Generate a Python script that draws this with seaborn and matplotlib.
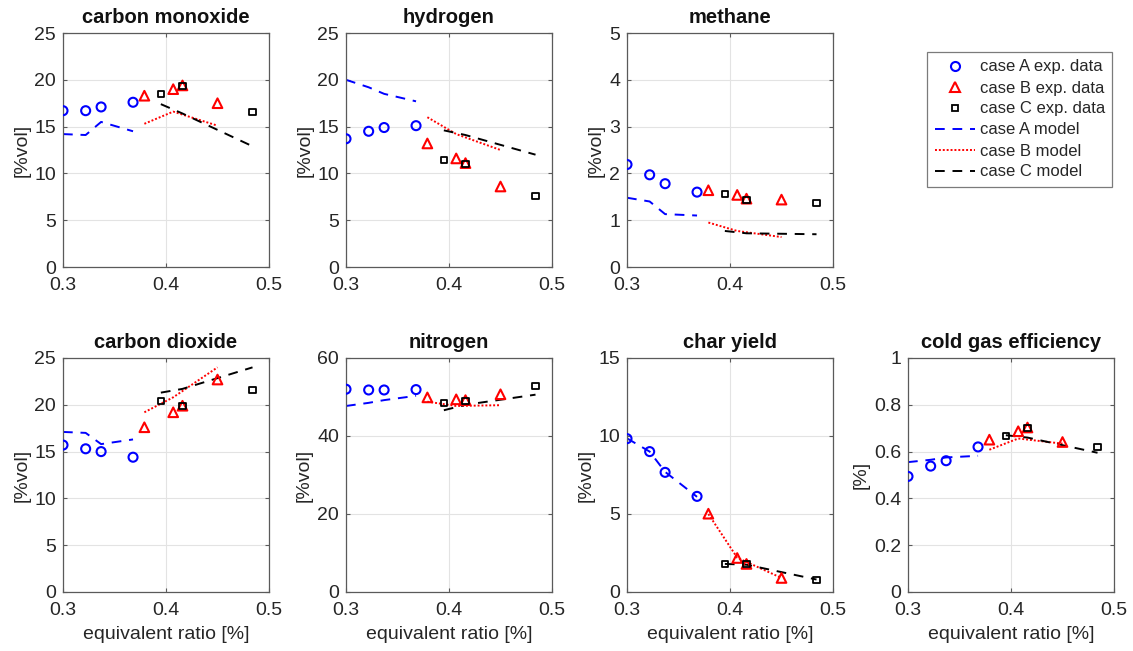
import numpy as np
import pandas as pd
import matplotlib
matplotlib.use("Agg")
import matplotlib.pyplot as plt
from matplotlib.lines import Line2D
import seaborn as sns

# ---------------- data ----------------
x_A = [0.300, 0.322, 0.337, 0.368]
x_B = [0.379, 0.407, 0.416, 0.450]
x_C = [0.395, 0.416, 0.484]
xm_B = [0.379, 0.407, 0.450]

titles = ["carbon monoxide", "hydrogen", "methane", "carbon dioxide",
          "nitrogen", "char yield", "cold gas efficiency"]
ylabels = ["[%vol]", "[%vol]", "[%vol]", "[%vol]", "[%vol]", "[%vol]", "[%]"]
ylims = [25, 25, 5, 25, 60, 15, 1]
ysteps = [5, 5, 1, 5, 20, 5, 0.2]

# experimental data
co_A = [16.7, 16.7, 17.1, 17.6]
co_B = [18.3, 19.0, 19.4, 17.5]
co_C = [18.5, 19.3, 16.6]
h2_A = [13.7, 14.5, 14.9, 15.1]
h2_B = [13.2, 11.6, 11.1, 8.6]
h2_C = [11.4, 11.0, 7.6]
ch4_A = [2.19, 1.97, 1.78, 1.60]
ch4_B = [1.64, 1.54, 1.46, 1.44]
ch4_C = [1.56, 1.44, 1.36]
co2_A = [15.7, 15.3, 15.0, 14.4]
co2_B = [17.6, 19.2, 19.9, 22.7]
co2_C = [20.4, 19.9, 21.6]
n2_A = [52.0, 51.8, 51.8, 51.9]
n2_B = [49.9, 49.4, 49.2, 50.7]
n2_C = [48.4, 49.0, 52.9]
char_A = [9.83, 9.0, 7.67, 6.13]
char_B = [5.02, 2.18, 1.8, 0.9]
char_C = [1.8, 1.8, 0.75]
cge_A = [0.494, 0.538, 0.561, 0.620]
cge_B = [0.651, 0.687, 0.703, 0.641]
cge_C = [0.667, 0.700, 0.618]

# model results
co_mA = [14.2, 14.1, 15.5, 14.5]
co_mB = [15.3, 16.6, 15.1]
co_mC = [17.4, 16.4, 12.9]
h2_mA = [20.0, 19.2, 18.5, 17.7]
h2_mB = [16.0, 14.2, 12.5]
h2_mC = [14.6, 14.1, 12.0]
ch4_mA = [1.48, 1.40, 1.13, 1.10]
ch4_mB = [0.95, 0.77, 0.64]
ch4_mC = [0.77, 0.72, 0.70]
co2_mA = [17.1, 17.0, 15.8, 16.3]
co2_mB = [19.2, 20.8, 24.0]
co2_mC = [21.3, 21.7, 24.0]
n2_mA = [47.7, 48.5, 49.2, 50.3]
n2_mB = [48.8, 47.7, 47.9]
n2_mC = [46.6, 48.0, 50.6]
char_mA = [9.85, 9.0, 7.7, 6.1]
char_mB = [5.0, 2.2, 0.9]
char_mC = [1.8, 1.75, 0.8]
cge_mA = [0.555, 0.565, 0.575, 0.582]
cge_mB = [0.608, 0.656, 0.634]
cge_mC = [0.670, 0.660, 0.595]

exp_A = [co_A, h2_A, ch4_A, co2_A, n2_A, char_A, cge_A]
exp_B = [co_B, h2_B, ch4_B, co2_B, n2_B, char_B, cge_B]
exp_C = [co_C, h2_C, ch4_C, co2_C, n2_C, char_C, cge_C]
mod_A = [co_mA, h2_mA, ch4_mA, co2_mA, n2_mA, char_mA, cge_mA]
mod_B = [co_mB, h2_mB, ch4_mB, co2_mB, n2_mB, char_mB, cge_mB]
mod_C = [co_mC, h2_mC, ch4_mC, co2_mC, n2_mC, char_mC, cge_mC]

# ---------------- style ----------------
sns.set_theme(style="white")
plt.rcParams['font.family'] = ['Liberation Sans', 'DejaVu Sans']
plt.rcParams['axes.unicode_minus'] = False

BLUE = "#0000ff"
RED = "#ff0000"
BLACK = "#000000"
TXT = "#262626"
SPINE = "#5a5a5a"
FS = 14

fig = plt.figure(figsize=(11.33, 6.51), dpi=100)
fig.patch.set_facecolor("white")

lefts = [63, 346, 627, 63, 346, 627, 908]
tops = [33, 33, 33, 358, 358, 358, 358]
W, H = 1133.0, 651.0
aw, ah = 206, 234

for i in range(7):
    l = lefts[i] / W
    b = 1 - (tops[i] + ah) / H
    ax = fig.add_axes([l, b, aw / W, ah / H])

    sns.lineplot(x=x_A, y=mod_A[i], ax=ax, color=BLUE, linestyle=(0, (5, 4)),
                 linewidth=1.4, sort=False, estimator=None)
    sns.lineplot(x=xm_B, y=mod_B[i], ax=ax, color=RED, linestyle=(0, (1, 1)),
                 linewidth=1.4, sort=False, estimator=None)
    sns.lineplot(x=x_C, y=mod_C[i], ax=ax, color=BLACK, linestyle=(0, (5, 4)),
                 linewidth=1.4, sort=False, estimator=None)

    sns.scatterplot(x=x_A, y=exp_A[i], ax=ax, marker="o", s=42,
                    facecolor="none", edgecolor=BLUE, linewidth=1.5, zorder=5)
    sns.scatterplot(x=x_B, y=exp_B[i], ax=ax, marker="^", s=48,
                    facecolor="none", edgecolor=RED, linewidth=1.5, zorder=5)
    sns.scatterplot(x=x_C, y=exp_C[i], ax=ax, marker="s", s=20,
                    facecolor="none", edgecolor=BLACK, linewidth=1.3, zorder=5)

    ax.set_xlim(0.3, 0.5)
    ax.set_ylim(0, ylims[i])
    ax.set_xticks([0.3, 0.4, 0.5])
    ax.set_xticklabels(["0.3", "0.4", "0.5"])
    yt = np.round(np.arange(0, ylims[i] + ysteps[i] / 2, ysteps[i]), 3)
    ax.set_yticks(yt)
    ax.set_yticklabels([("%g" % v) for v in yt])
    ax.grid(True, color="#e3e3e3", linewidth=0.8)
    ax.set_axisbelow(True)
    for sp in ax.spines.values():
        sp.set_color(SPINE)
        sp.set_linewidth(0.9)
    ax.tick_params(axis="both", direction="in", length=3, width=0.8,
                   colors=SPINE, labelcolor=TXT, labelsize=FS,
                   top=True, right=True, bottom=True, left=True)
    ax.tick_params(axis="x", pad=7)
    ax.tick_params(axis="y", pad=5)
    ax.set_title(titles[i], fontsize=14.5, fontweight="bold", color="#111111", pad=7)
    ax.set_ylabel(ylabels[i], fontsize=FS, color=TXT, labelpad=3)
    if i >= 3:
        ax.set_xlabel("equivalent ratio [%]", fontsize=FS, color=TXT, labelpad=5)
    else:
        ax.set_xlabel("")
    if ax.get_legend() is not None:
        ax.get_legend().remove()

handles = [
    Line2D([], [], linestyle="none", marker="o", markersize=6.5, markerfacecolor="none",
           markeredgecolor=BLUE, markeredgewidth=1.5),
    Line2D([], [], linestyle="none", marker="^", markersize=6.5, markerfacecolor="none",
           markeredgecolor=RED, markeredgewidth=1.5),
    Line2D([], [], linestyle="none", marker="s", markersize=4.5, markerfacecolor="none",
           markeredgecolor=BLACK, markeredgewidth=1.3),
    Line2D([], [], color=BLUE, linestyle=(0, (5, 4)), linewidth=1.4),
    Line2D([], [], color=RED, linestyle=(0, (1, 1)), linewidth=1.4),
    Line2D([], [], color=BLACK, linestyle=(0, (5, 4)), linewidth=1.4),
]
labels = ["case A exp. data", "case B exp. data", "case C exp. data",
          "case A model", "case B model", "case C model"]
leg = fig.legend(handles, labels, loc="upper left",
                 bbox_to_anchor=(927 / W, 1 - 52 / H), fontsize=12,
                 frameon=True, fancybox=False, handlelength=2.4,
                 handletextpad=0.3, labelspacing=0.36, borderpad=0.45,
                 borderaxespad=0)
leg.get_frame().set_edgecolor(SPINE)
leg.get_frame().set_linewidth(0.9)
for t in leg.get_texts():
    t.set_color(TXT)

fig.savefig("out.png", dpi=100, facecolor="white")
